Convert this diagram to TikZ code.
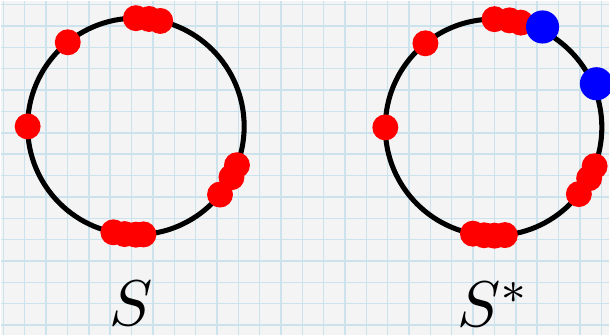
\documentclass[tikz,border=0pt]{standalone}
\usepackage{tikz}
\usepackage{graphicx}
\usepackage{xcolor}
\usetikzlibrary{positioning}
\definecolor{papier}{RGB}{244,244,244}
\definecolor{quadrillage}{RGB}{204,227,238}
\definecolor{rougevif}{RGB}{255,0,0}
\definecolor{bleuvif}{RGB}{0,0,255}

\begin{document}
\begin{tikzpicture}[
        x=0.025cm, y=0.025cm,
        % Style pour le quadrillage du fond
        ligneGrille/.style={
            draw=quadrillage,
            line width=1pt
        },
        % Style pour les deux cercles
        anneau/.style={
            circle,
            draw=black,
            line width=3.6pt,
            minimum size=5.425cm,
            inner sep=0pt
        },
        % Points de l'ensemble S
        pointRouge/.style={
            circle,
            fill=rougevif,
            minimum size=0.65cm,
            inner sep=0pt
        },
        % Points ajoutés dans S*
        pointBleu/.style={
            circle,
            fill=bleuvif,
            minimum size=0.83cm,
            inner sep=0pt
        },
        % Style pour les noms des ensembles
        etiquette/.style={
            anchor=base,
            inner sep=0pt
        }
    ]

    % Fond quadrillé
    \fill[papier] (0,0) rectangle (610,335);
    \foreach \gx in {0,...,28}
        \draw[ligneGrille] ({2.7+21.4*\gx},0) -- ({2.7+21.4*\gx},335);
    \foreach \gy in {0,...,15}
        \draw[ligneGrille] (0,{331-21.4*\gy}) -- (610,{331-21.4*\gy});
    \useasboundingbox (0,0) rectangle (610,335);

    % Cercle de gauche
    \node[anneau] (cercleS) at (135.5,209) {};
    \foreach \a [count=\i] in {90,83,77,129,180,-21,-28,-39,-102,-96,-90,-86}
        \node[pointRouge] (s\i) at ([shift={(\a:108.5)}]cercleS.center) {};

    % Cercle de droite
    \node[anneau] (cercleT) at (494,208) {};
    \foreach \a [count=\i] in {89.5,81.5,75.5,129,180,-21,-28,-38,-101,-95,-89.5,-84}
        \node[pointRouge] (t\i) at ([shift={(\a:108.5)}]cercleT.center) {};
    \node[pointBleu] (b1) at ([shift={(64:112)}]cercleT.center) {};
    \node[pointBleu] (b2) at ([shift={(23:112)}]cercleT.center) {};

    % Noms des ensembles
    \node[etiquette] (nomS) at (131,9) {\scalebox{4.6}{$S$}};
    \node[etiquette] (nomT) at (494,8) {\scalebox{4.6}{$S^*$}};

\end{tikzpicture}
\end{document}
